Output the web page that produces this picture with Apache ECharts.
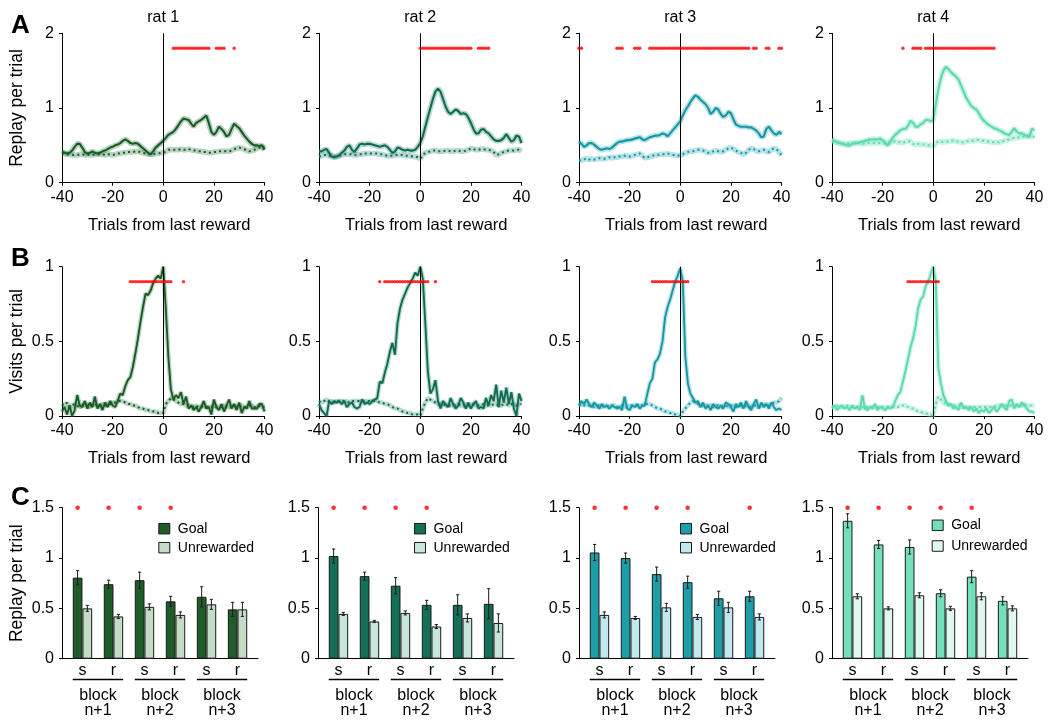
<!DOCTYPE html>
<html><head><meta charset="utf-8">
<script src="https://cdn.jsdelivr.net/npm/echarts@6/dist/echarts.min.js"></script>
<style>html,body{margin:0;padding:0;background:#fff}#c{width:1050px;height:723px}</style>
</head><body><div id="c"></div>
<script>
// ---------------- DATA ----------------
const trials = [-40,-39,-38,-37,-36,-35,-34,-33,-32,-31,-30,-29,-28,-27,-26,-25,-24,-23,-22,-21,
  -20,-19,-18,-17,-16,-15,-14,-13,-12,-11,-10,-9,-8,-7,-6,-5,-4,-3,-2,-1,0,
  1,2,3,4,5,6,7,8,9,10,11,12,13,14,15,16,17,18,19,20,21,22,23,24,25,26,27,28,29,30,
  31,32,33,34,35,36,37,38,39,40];
const ratNames = ['rat 1','rat 2','rat 3','rat 4'];
const xTicksAB = [-40,-20,0,20,40];

// Row A: replay per trial (goal = solid, control = dotted)
const replayA_rat1 = [.42,.40,.39,.40,.43,.48,.52,.52,.47,.41, .39,.40,.42,.40,.39,.40,.42,.43,.45,.47,
  .48,.50,.51,.53,.56,.58,.56,.53,.52,.53, .52,.49,.46,.43,.40,.38,.42,.47,.50,.53, .56,
  .60,.64,.66,.68,.72,.77,.82,.86,.85,.84, .79,.75,.80,.82,.84,.87,.90,.80,.68,.64,
  .68,.75,.72,.68,.62,.64,.72,.79,.76,.73, .68,.63,.59,.55,.52,.50,.50,.49,.50,.44];
const replayA_ctrl_rat1 = [.39,.39,.38,.38,.37,.37,.37,.38,.38,.37, .38,.37,.37,.38,.38,.38,.38,.37,.38,.38,
  .37,.38,.39,.39,.40,.40,.41,.41,.41,.42, .42,.41,.40,.39,.38,.38,.38,.39,.39,.40, .40,
  .42,.44,.44,.44,.44,.44,.45,.44,.44,.45, .44,.43,.43,.42,.42,.41,.41,.40,.40,.41,
  .41,.42,.42,.42,.42,.42,.43,.45,.46,.47, .46,.45,.43,.42,.43,.44,.46,.47,.48,.46];
const replayA_rat2 = [.42,.42,.44,.45,.40,.35,.34,.35,.37,.40, .43,.48,.50,.44,.41,.46,.51,.52,.51,.52,
  .52,.51,.50,.49,.48,.49,.50,.48,.44,.40, .42,.47,.46,.44,.43,.44,.43,.43,.44,.48, .53,
  .62,.75,.88,1.00,1.12,1.22,1.26,1.22,1.12,1.02, .95,.92,.95,.98,.96,.92,.93,.92,.87,.80,
  .72,.66,.66,.71,.72,.68,.66,.62,.58,.56, .56,.57,.60,.65,.60,.55,.57,.63,.62,.53];
const replayA_ctrl_rat2 = [.35,.36,.37,.37,.36,.36,.35,.35,.36,.37, .38,.38,.38,.38,.37,.37,.38,.38,.39,.39,
  .39,.39,.39,.39,.38,.38,.37,.36,.36,.36, .37,.37,.37,.37,.36,.36,.36,.35,.35,.34, .32,
  .37,.40,.41,.42,.43,.43,.42,.42,.42,.43, .43,.42,.42,.43,.43,.42,.42,.43,.44,.46,
  .45,.44,.44,.45,.45,.44,.44,.43,.41,.37, .38,.40,.41,.42,.43,.43,.43,.44,.44,.42];
const replayA_rat3 = [.55,.52,.48,.50,.53,.53,.51,.48,.45,.44, .45,.46,.45,.47,.50,.53,.55,.55,.56,.57,
  .57,.58,.59,.60,.61,.58,.57,.59,.61,.62, .63,.63,.64,.66,.65,.62,.66,.70,.74,.78, .82,
  .90,.97,1.02,1.08,1.13,1.17,1.15,1.11,1.08,1.05, 1.00,.92,.95,1.00,.98,.92,.88,.90,.95,.93,
  .85,.78,.76,.75,.75,.75,.74,.74,.72,.70, .66,.61,.62,.72,.75,.70,.66,.64,.68,.65];
const replayA_ctrl_rat3 = [.30,.30,.31,.33,.31,.32,.31,.32,.33,.32, .32,.33,.34,.33,.34,.34,.35,.35,.36,.36,
  .35,.36,.37,.38,.39,.36,.33,.34,.35,.36, .37,.37,.38,.38,.38,.39,.38,.37,.37,.36, .37,
  .38,.40,.41,.42,.42,.43,.44,.44,.43,.42, .40,.40,.42,.43,.42,.41,.42,.44,.46,.47,
  .45,.43,.41,.40,.38,.40,.44,.46,.45,.43, .42,.43,.44,.42,.41,.44,.46,.45,.41,.37];
const replayA_rat4 = [.58,.56,.54,.53,.52,.51,.50,.50,.52,.53, .53,.54,.55,.56,.57,.58,.58,.58,.58,.59,
  .57,.53,.50,.55,.60,.64,.67,.70,.72,.72, .76,.83,.80,.75,.75,.78,.80,.84,.84,.82, .84,
  1.05,1.25,1.40,1.50,1.55,1.52,1.48,1.45,1.42,1.38, 1.30,1.22,1.14,1.08,1.03,1.00,.98,.93,.87,.83,
  .80,.77,.75,.73,.72,.70,.69,.66,.65,.64, .68,.73,.68,.66,.66,.64,.63,.62,.72,.70];
const replayA_ctrl_rat4 = [.55,.55,.54,.53,.52,.52,.52,.53,.53,.53, .53,.53,.52,.52,.53,.53,.53,.53,.53,.53,
  .54,.54,.53,.54,.55,.55,.54,.54,.53,.55, .56,.55,.52,.51,.52,.51,.51,.51,.50,.50, .49,
  .53,.55,.55,.54,.55,.55,.56,.56,.55,.55, .54,.54,.55,.56,.56,.56,.57,.57,.56,.56,
  .55,.55,.54,.54,.54,.54,.55,.56,.57,.58, .59,.60,.60,.61,.61,.62,.62,.62,.62,.61];

// Row B: visits per trial
const visitsB_rat1 = [.03,.06,.01,.07,.00,.04,.14,.07,.06,.10, .05,.09,.06,.13,.05,.08,.04,.09,.06,.10,
  .07,.06,.10,.15,.14,.20,.24,.26,.33,.42, .52,.63,.73,.82,.81,.84,.89,.92,.94,.92, 1.00,
  .72,.40,.18,.11,.14,.12,.16,.08,.13,.05, .07,.04,.06,.03,.06,.10,.05,.06,.01,.11,
  .06,.04,.08,.03,.07,.11,.05,.08,.04,.09, .02,.06,.05,.10,.05,.05,.05,.08,.08,.03];
const visitsB_ctrl_rat1 = [.08,.07,.09,.06,.07,.08,.07,.06,.07,.08, .07,.06,.07,.08,.07,.07,.08,.07,.08,.08,
  .09,.09,.10,.10,.10,.09,.08,.08,.07,.07, .06,.05,.05,.04,.04,.03,.03,.03,.02,.02, .02,
  .08,.10,.12,.11,.10,.09,.08,.08,.07,.07, .07,.06,.07,.06,.06,.07,.06,.06,.06,.07,
  .06,.06,.06,.07,.06,.06,.06,.07,.06,.06, .07,.06,.06,.07,.07,.06,.06,.07,.06,.06];
const visitsB_rat2 = [.08,.04,.02,.00,.10,.08,.10,.09,.10,.08, .10,.06,.08,.09,.06,.05,.06,.11,.08,.09,
  .08,.10,.11,.12,.23,.22,.29,.35,.43,.49, .41,.62,.72,.78,.82,.86,.89,.92,.96,.94, 1.00,
  .92,.62,.30,.15,.18,.24,.10,.05,.10,.08, .06,.12,.08,.05,.07,.12,.09,.05,.09,.05,
  .08,.10,.05,.06,.05,.12,.07,.14,.10,.21, .06,.17,.09,.19,.08,.16,.05,.00,.15,.10];
const visitsB_ctrl_rat2 = [.10,.09,.10,.11,.10,.10,.09,.10,.10,.10, .10,.10,.09,.10,.10,.10,.10,.10,.10,.10,
  .10,.10,.10,.10,.09,.09,.08,.08,.07,.06, .05,.05,.04,.03,.03,.02,.02,.01,.01,.01, .00,
  .05,.09,.12,.11,.10,.09,.08,.08,.08,.07, .07,.07,.07,.07,.08,.07,.07,.08,.07,.07,
  .08,.07,.07,.07,.08,.07,.07,.07,.08,.08, .07,.07,.08,.08,.07,.08,.08,.07,.08,.08];
const visitsB_rat3 = [.07,.10,.08,.11,.08,.06,.09,.07,.05,.08, .06,.07,.05,.07,.06,.05,.06,.04,.13,.05,
  .04,.07,.06,.08,.05,.07,.07,.15,.22,.25, .36,.38,.42,.50,.66,.73,.78,.84,.90,.94, .99,
  .90,.40,.22,.15,.12,.09,.10,.06,.09,.05, .07,.04,.08,.06,.05,.07,.05,.09,.08,.06,
  .03,.08,.06,.09,.05,.10,.06,.04,.08,.11, .05,.09,.06,.08,.05,.09,.06,.04,.05,.04];
const visitsB_ctrl_rat3 = [.07,.08,.07,.08,.07,.07,.06,.07,.07,.06, .07,.07,.06,.07,.07,.06,.06,.07,.07,.06,
  .07,.07,.07,.07,.07,.07,.08,.08,.08,.07, .06,.05,.05,.04,.03,.03,.02,.02,.01,.01, .00,
  .03,.05,.07,.09,.10,.09,.08,.07,.07,.07, .07,.07,.06,.07,.07,.06,.07,.07,.06,.07,
  .07,.06,.07,.07,.06,.07,.07,.06,.07,.07, .06,.07,.07,.08,.07,.08,.09,.09,.10,.12];
const visitsB_rat4 = [.05,.07,.04,.06,.07,.05,.06,.04,.07,.05, .06,.04,.14,.05,.04,.06,.05,.08,.04,.06,
  .05,.04,.06,.05,.06,.10,.14,.16,.23,.30, .38,.46,.52,.60,.72,.78,.80,.87,.90,.95, 1.00,
  .90,.32,.22,.14,.10,.07,.08,.05,.06,.04, .09,.05,.06,.04,.06,.03,.05,.02,.04,.03,
  .05,.02,.04,.06,.03,.05,.08,.06,.04,.10, .11,.05,.08,.06,.09,.07,.05,.03,.03,.02];
const visitsB_ctrl_rat4 = [.06,.06,.07,.06,.06,.06,.07,.06,.06,.06, .06,.06,.06,.05,.06,.06,.06,.06,.06,.06,
  .06,.06,.06,.06,.06,.06,.06,.07,.07,.07, .06,.05,.05,.04,.03,.03,.02,.02,.01,.01, .00,
  .08,.13,.11,.09,.08,.08,.07,.07,.07,.07, .06,.06,.06,.06,.06,.06,.06,.06,.06,.06,
  .06,.06,.06,.06,.07,.07,.07,.07,.07,.07, .07,.07,.07,.07,.07,.08,.07,.07,.07,.07];

// significance (trials with red dots)
const sigA_rat1 = [4,5,6,7,8,9,10,11,12,13,14,15,16,17,18,21,22,23,24,28];
const sigA_rat2 = [0,1,2,3,4,5,6,7,8,9,10,11,12,13,14,15,16,17,18,19,20,23,24,25,26,27];
const sigA_rat3 = [-40,-39,-25,-24,-23,-18,-17,-16,-12,-11,-10,-9,-8,-7,-6,-5,-4,-3,-2,-1,0,1,2,3,4,5,6,7,8,9,10,
  11,12,13,14,15,16,17,18,19,20,21,22,23,24,25,26,27,29,30,34,35,39,40];
const sigA_rat4 = [-12,-8,-7,-6,-5,-3,-2,-1,0,1,2,3,4,5,6,7,8,9,10,11,12,13,14,15,16,17,18,19,20,21,22,23,24];
const sigB_rat1 = [-13,-12,-11,-10,-9,-8,-7,-6,-5,-4,-3,-2,-1,0,1,2,3,8];
const sigB_rat2 = [-16,-14,-13,-12,-11,-10,-9,-8,-7,-6,-5,-4,-3,-2,-1,0,1,2,3,6];
const sigB_rat3 = [-11,-10,-9,-8,-7,-6,-5,-4,-3,-2,-1,0,1,2,3];
const sigB_rat4 = [-10,-9,-8,-7,-6,-5,-4,-3,-2,-1,0,1,2];
const sigLevelA = 1.8, sigLevelB = 0.9, sigLevelC = 1.5;

// Row C: replay per trial by block
const xLabelsC = ['s','r','s','r','s','r'];
const blockNames = ['block\nn+1','block\nn+2','block\nn+3'];
const goalC_rat1 = [0.805,0.74,0.78,0.57,0.615,0.49];
const goalErrC_rat1 = [0.07,0.04,0.08,0.05,0.10,0.07];
const unrewC_rat1 = [0.50,0.42,0.515,0.435,0.54,0.49];
const unrewErrC_rat1 = [0.03,0.02,0.03,0.03,0.05,0.07];
const goalC_rat2 = [1.02,0.82,0.725,0.535,0.535,0.545];
const goalErrC_rat2 = [0.07,0.04,0.08,0.045,0.10,0.15];
const unrewC_rat2 = [0.445,0.37,0.455,0.32,0.405,0.355];
const unrewErrC_rat2 = [0.015,0.01,0.02,0.02,0.04,0.09];
const goalC_rat3 = [1.055,1.0,0.84,0.76,0.60,0.62];
const goalErrC_rat3 = [0.08,0.05,0.07,0.06,0.07,0.05];
const unrewC_rat3 = [0.435,0.405,0.51,0.415,0.51,0.415];
const unrewErrC_rat3 = [0.03,0.015,0.04,0.025,0.05,0.03];
const goalC_rat4 = [1.37,1.135,1.11,0.65,0.815,0.575];
const goalErrC_rat4 = [0.07,0.04,0.07,0.035,0.06,0.04];
const unrewC_rat4 = [0.62,0.50,0.63,0.50,0.62,0.50];
const unrewErrC_rat4 = [0.025,0.015,0.025,0.02,0.035,0.025];
const sigC_rat1 = [0,1,2,3];
const sigC_rat2 = [0,1,2,3];
const sigC_rat3 = [0,1,2,3,5];
const sigC_rat4 = [0,1,2,3,4];

// ---------------- STYLE / LAYOUT ----------------
const FONT = 'Liberation Sans';
const mainCol = ['#1b5a26','#0f6b52','#1897a3','#5cd9ad'];
const haloCol = ['rgba(40,120,60,0.33)','rgba(30,130,100,0.31)','rgba(40,170,180,0.33)','rgba(110,225,185,0.40)'];
const goalCol = ['#1e5c2a','#146f57','#1d9ea9','#74e0bb'];
const unrewCol = ['#c4dcc6','#c7e5da','#c1e8ec','#e0f8ef'];
const AB_LEFT = [62,319,579,832], AB_W = 202.5;
const C_LEFT = [62,318,579,832], C_W = 196;
const ROW_TOP = [33.3, 266.7, 507.7], ROW_H = [149.4, 149.3, 151];
const BAR_W = 9.7;
const legendLeft = [158.3,414,680,931.7], legendTop = [521.7,521.7,521.7,518.3], legendGap = [5,5,5,6.7];

const rowsAB = [
  {max:2, interval:1, sig:[sigA_rat1,sigA_rat2,sigA_rat3,sigA_rat4], level:sigLevelA, yName:'Replay per trial',
   main:[replayA_rat1,replayA_rat2,replayA_rat3,replayA_rat4], ctrl:[replayA_ctrl_rat1,replayA_ctrl_rat2,replayA_ctrl_rat3,replayA_ctrl_rat4], lw:2.1, hw:5.5},
  {max:1, interval:0.5, sig:[sigB_rat1,sigB_rat2,sigB_rat3,sigB_rat4], level:sigLevelB, yName:'Visits per trial',
   main:[visitsB_rat1,visitsB_rat2,visitsB_rat3,visitsB_rat4], ctrl:[visitsB_ctrl_rat1,visitsB_ctrl_rat2,visitsB_ctrl_rat3,visitsB_ctrl_rat4], lw:1.9, hw:4.5}
];
const goalC = [goalC_rat1,goalC_rat2,goalC_rat3,goalC_rat4];
const goalErrC = [goalErrC_rat1,goalErrC_rat2,goalErrC_rat3,goalErrC_rat4];
const unrewC = [unrewC_rat1,unrewC_rat2,unrewC_rat3,unrewC_rat4];
const unrewErrC = [unrewErrC_rat1,unrewErrC_rat2,unrewErrC_rat3,unrewErrC_rat4];
const sigC = [sigC_rat1,sigC_rat2,sigC_rat3,sigC_rat4];

const axisLine = {show:true, onZero:false, lineStyle:{color:'#000', width:1}};
const tick = {show:true, length:3, inside:false, lineStyle:{color:'#000', width:1}};
const lbl = {color:'#000', fontSize:16, fontFamily:FONT};

const grids=[], xAxes=[], yAxes=[], series=[], legends=[], graphics=[];

rowsAB.forEach((row, ri) => {
  for (let r = 0; r < 4; r++) {
    const g = grids.length;
    grids.push({left:AB_LEFT[r], top:ROW_TOP[ri], width:AB_W, height:ROW_H[ri], outerBoundsMode:'none'});
    xAxes.push({gridIndex:g, type:'value', min:xTicksAB[0], max:xTicksAB[xTicksAB.length-1], interval:20,
      axisLine, axisTick:tick, splitLine:{show:false}, axisLabel:{...lbl, margin:7},
      name:'Trials from last reward', nameLocation:'middle', nameGap:34,
      nameTextStyle:{color:'#000', fontSize:16.5, fontFamily:FONT, padding:[0,0,0,12]}});
    const ya = {gridIndex:g, type:'value', min:0, max:row.max, interval:row.interval,
      axisLine, axisTick:tick, splitLine:{show:false}, axisLabel:{...lbl, margin:8}};
    if (r === 0) Object.assign(ya, {name:row.yName, nameLocation:'middle', nameGap:36,
      nameTextStyle:{color:'#000', fontSize:17.5, fontFamily:FONT}});
    yAxes.push(ya);
    const pts = arr => trials.map((t, i) => [t, arr[i]]);
    const base = {xAxisIndex:g, yAxisIndex:g, type:'line', showSymbol:false, symbol:'none', silent:true, animation:false};
    series.push({...base, name:'halo_c'+g, data:pts(row.ctrl[r]), z:1, lineStyle:{color:haloCol[r], width:row.hw}});
    series.push({...base, name:'halo_m'+g, data:pts(row.main[r]), z:1, lineStyle:{color:haloCol[r], width:row.hw}});
    series.push({...base, name:'ctrl'+g, data:pts(row.ctrl[r]), z:2, lineStyle:{color:mainCol[r], width:2, type:[2,3.2], cap:'butt'}});
    series.push({...base, name:'main'+g, data:pts(row.main[r]), z:3, lineStyle:{color:mainCol[r], width:row.lw},
      markLine:{silent:true, symbol:['none','none'], label:{show:false}, animation:false,
        lineStyle:{color:'#000', width:1, type:'solid'}, data:[{xAxis:0}]}});
    series.push({xAxisIndex:g, yAxisIndex:g, type:'scatter', name:'sig'+g, silent:true, animation:false, z:5,
      symbol:'circle', symbolSize:3.4, itemStyle:{color:'#ff0000'},
      data:row.sig[r].map(t => [t, row.level])});
    if (ri === 0) graphics.push({type:'text', x:AB_LEFT[r] + AB_W/2, y:10, style:{text:ratNames[r], font:'16px ' + FONT, fill:'#000', align:'center', verticalAlign:'top'}});
  }
});

function errRender(params, api) {
  const x = api.value(0), v = api.value(1), e = api.value(2), side = api.value(3);
  const top = api.coord([x, v + e]), bot = api.coord([x, v - e]);
  const cx = top[0] + side * BAR_W / 2;
  const st = {stroke:'#1a1a1a', lineWidth:1};
  return {type:'group', children:[
    {type:'line', shape:{x1:cx, y1:top[1], x2:cx, y2:bot[1]}, style:st},
    {type:'line', shape:{x1:cx-1.6, y1:top[1], x2:cx+1.6, y2:top[1]}, style:st},
    {type:'line', shape:{x1:cx-1.6, y1:bot[1], x2:cx+1.6, y2:bot[1]}, style:st}
  ]};
}
function underlineRender(params, api) {
  const b = api.value(0);
  const p0 = api.coord([2*b, 0]), p1 = api.coord([2*b + 1, 0]);
  const y = p0[1] + 20.8;
  return {type:'line', shape:{x1:p0[0] - BAR_W, y1:y, x2:p1[0] + BAR_W, y2:y}, style:{stroke:'#000', lineWidth:1.4}};
}

for (let r = 0; r < 4; r++) {
  const g = grids.length;
  grids.push({left:C_LEFT[r], top:ROW_TOP[2], width:C_W, height:ROW_H[2], outerBoundsMode:'none'});
  const cats = xLabelsC.map((_, i) => i);
  xAxes.push({gridIndex:g, type:'value', min:-0.66, max:5.66, axisLine, axisTick:{show:false}, splitLine:{show:false},
    axisLabel:{...lbl, margin:4, customValues:cats, formatter:v => xLabelsC[Math.round(v)]}});
  yAxes.push(Object.assign({gridIndex:g, type:'value', min:0, max:1.5, interval:0.5, axisLine, axisTick:tick,
    splitLine:{show:false}, axisLabel:{...lbl, margin:8}},
    r === 0 ? {name:'Replay per trial', nameLocation:'middle', nameGap:36, nameTextStyle:{color:'#000', fontSize:17.5, fontFamily:FONT}} : {}));
  series.push({type:'bar', name:'Goal', xAxisIndex:g, yAxisIndex:g, barWidth:BAR_W, barGap:'0%', animation:false, silent:true,
    itemStyle:{color:goalCol[r], borderColor:'#1a1a1a', borderWidth:1}, data:goalC[r].map((v, i) => [i, v])});
  series.push({type:'bar', name:'Unrewarded', xAxisIndex:g, yAxisIndex:g, barWidth:BAR_W, barGap:'0%', animation:false, silent:true,
    itemStyle:{color:unrewCol[r], borderColor:'#1a1a1a', borderWidth:1}, data:unrewC[r].map((v, i) => [i, v])});
  series.push({type:'custom', name:'err'+g, xAxisIndex:g, yAxisIndex:g, renderItem:errRender, z:4, silent:true, animation:false,
    data:goalC[r].map((v, i) => [i, v, goalErrC[r][i], -1]).concat(unrewC[r].map((v, i) => [i, v, unrewErrC[r][i], 1]))});
  series.push({type:'scatter', name:'sigC'+g, xAxisIndex:g, yAxisIndex:g, symbol:'circle', symbolSize:4.6, symbolOffset:[-BAR_W/2, 0],
    itemStyle:{color:'#ff0000'}, silent:true, animation:false, data:sigC[r].map(i => [i, sigLevelC])});
  series.push({type:'custom', name:'ul'+g, xAxisIndex:g, yAxisIndex:g, renderItem:underlineRender, clip:false, silent:true, animation:false,
    data:blockNames.map((_, b) => [b])});
  legends.push({orient:'vertical', left:legendLeft[r], top:legendTop[r], itemWidth:11, itemHeight:10.5, itemGap:legendGap[r], padding:0,
    selectedMode:false, textStyle:{color:'#000', fontSize:14, fontFamily:FONT, padding:[0,0,0,3]},
    data:[{name:'Goal', icon:'rect', itemStyle:{color:goalCol[r], borderColor:'#1a1a1a', borderWidth:1}},
          {name:'Unrewarded', icon:'rect', itemStyle:{color:unrewCol[r], borderColor:'#1a1a1a', borderWidth:1}}]});
}
// block label axes
for (let r = 0; r < 4; r++) {
  const g = 8 + r;
  xAxes.push({gridIndex:g, type:'value', position:'bottom', min:-0.66, max:5.66, axisLine:{show:false}, axisTick:{show:false},
    splitLine:{show:false},
    axisLabel:{...lbl, margin:29, lineHeight:15.5, customValues:[0.5,2.5,4.5], formatter:v => blockNames[Math.round((v - 0.5) / 2)]}});
}

['A','B','C'].forEach((t, i) => {
  graphics.push({type:'text', x:11, y:[13, 246, 485][i], style:{text:t, font:'bold 26px ' + FONT, fill:'#000', align:'left', verticalAlign:'top'}});
});

const chart = echarts.init(document.getElementById('c'), null, {renderer:'canvas', width:1050, height:723});
chart.setOption({
  animation:false,
  backgroundColor:'#fff',
  textStyle:{fontFamily:FONT},
  grid:grids, xAxis:xAxes, yAxis:yAxes, series, legend:legends, graphic:graphics
});
</script></body></html>
